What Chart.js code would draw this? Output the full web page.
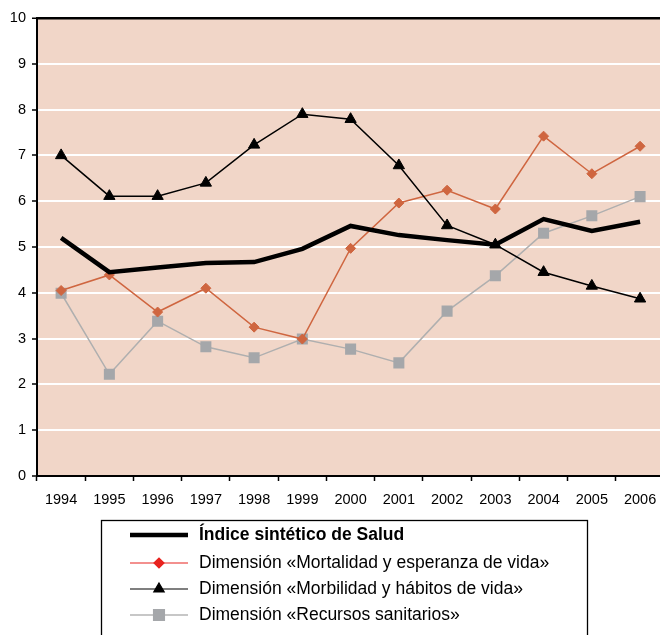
<!DOCTYPE html>
<html><head><meta charset="utf-8">
<script src="https://cdn.jsdelivr.net/npm/chart.js@4/dist/chart.umd.min.js"></script>
<style>
html,body{margin:0;padding:0;background:#fff;overflow:hidden}
#wrap{width:660px;height:635px;overflow:hidden;position:relative}
#c{position:absolute;left:0;top:0}
</style>
</head><body>
<div id="wrap"><canvas id="c" width="672" height="635"></canvas></div>
<script>
const years = ['1994','1995','1996','1997','1998','1999','2000','2001','2002','2003','2004','2005','2006'];
const indiceSalud = [5.2,4.45,4.55,4.65,4.67,4.96,5.46,5.26,5.15,5.05,5.61,5.35,5.55];
const mortalidad  = [4.05,4.39,3.58,4.1,3.25,2.99,4.97,5.96,6.24,5.83,7.42,6.6,7.2];
const morbilidad  = [7.0,6.11,6.11,6.4,7.23,7.9,7.79,6.78,5.47,5.05,4.45,4.15,3.87];
const recursos    = [3.99,2.22,3.38,2.82,2.58,2.99,2.77,2.47,3.6,4.37,5.3,5.68,6.1];
const seriesNames = [
  'Índice sintético de Salud',
  'Dimensión «Mortalidad y esperanza de vida»',
  'Dimensión «Morbilidad y hábitos de vida»',
  'Dimensión «Recursos sanitarios»'
];
const yMin = 0, yMax = 10, yStep = 1;

const FONT = "'Liberation Sans', Arial, sans-serif";

const bgPlugin = {
  id: 'plotBg',
  beforeDraw(chart) {
    const a = chart.chartArea, ctx = chart.ctx;
    ctx.save();
    ctx.fillStyle = '#F1D6C8';
    ctx.fillRect(a.left, a.top, a.right - a.left, a.bottom - a.top);
    ctx.restore();
  }
};

const legendStyles = [
  {color:'#000000', width:4.5, style:false},
  {color:'#E8231F', width:1.2, style:'rectRot', radius:5, fill:'#E8231F'},
  {color:'#000000', width:1.2, style:'triangle', radius:6, fill:'#000000'},
  {color:'#B4B4B4', width:1.5, style:'rect', radius:7.5, fill:'#A5A7AA'}
];

const legendPlugin = {
  id: 'boxLegend',
  afterDraw(chart) {
    const ctx = chart.ctx;
    ctx.save();
    ctx.strokeStyle = '#000';
    ctx.lineWidth = 1.3;
    ctx.strokeRect(101.5, 520.5, 486, 140);
    const rows = [535, 563, 589, 615];
    chart.data.datasets.forEach((ds, i) => {
      const st = legendStyles[i];
      const y = rows[i];
      ctx.strokeStyle = st.color;
      ctx.lineWidth = st.width;
      ctx.beginPath();
      ctx.moveTo(130, y); ctx.lineTo(188, y);
      ctx.stroke();
      if (st.style) {
        ctx.fillStyle = st.fill;
        ctx.strokeStyle = st.fill;
        Chart.helpers.drawPoint(ctx, {pointStyle: st.style, radius: st.radius, rotation: 0, borderWidth: 1}, 159, y);
      }
      ctx.fillStyle = '#000';
      ctx.font = (i === 0 ? 'bold ' : '') + '17.5px ' + FONT;
      ctx.textBaseline = 'middle';
      ctx.textAlign = 'left';
      ctx.fillText(ds.label, 199, y);
    });
    ctx.restore();
  }
};

new Chart(document.getElementById('c'), {
  type: 'line',
  data: {
    labels: years,
    datasets: [
      {label: seriesNames[0], data: indiceSalud, borderColor:'#000', borderWidth:4.5, pointRadius:0, pointHoverRadius:0, order:0, tension:0},
      {label: seriesNames[1], data: mortalidad, borderColor:'#CF6640', backgroundColor:'#CF6640', borderWidth:1.5,
        pointStyle:'rectRot', pointRadius:5, pointBorderWidth:1, pointBorderColor:'#CF6640', pointBackgroundColor:'#CF6640', order:2},
      {label: seriesNames[2], data: morbilidad, borderColor:'#000', backgroundColor:'#000', borderWidth:1.5,
        pointStyle:'triangle', pointRadius:6.5, pointBorderWidth:1, pointBorderColor:'#000', pointBackgroundColor:'#000', order:1},
      {label: seriesNames[3], data: recursos, borderColor:'#AFAFAF', backgroundColor:'#A5A7AA', borderWidth:1.5,
        pointStyle:'rect', pointRadius:7.8, pointBorderWidth:0, pointBorderColor:'#A5A7AA', pointBackgroundColor:'#A5A7AA', order:3}
    ]
  },
  options: {
    responsive: false,
    animation: false,
    events: [],
    layout: {padding: {top: 18, right: 4, bottom: 129, left: 0}},
    plugins: {legend: {display:false}, tooltip: {enabled:false}},
    scales: {
      x: {
        offset: true,
        grid: {offset: true, drawOnChartArea: false, drawTicks: true, tickLength: 5, tickColor: '#000', tickWidth: 1.5},
        border: {display: true, color: '#000', width: 2},
        ticks: {color:'#000', font: {family: FONT, size: 14.5}, padding: 10, maxRotation: 0, autoSkip: false},
        afterFit(axis) { axis.height = 30; }
      },
      y: {
        min: yMin, max: yMax,
        grid: {
          color: (c) => c.tick && c.tick.value === yMax ? '#000' : '#FFFFFF',
          lineWidth: (c) => c.tick && c.tick.value === yMax ? 2.5 : 2,
          tickColor: '#000', tickLength: 5, tickWidth: 1.5
        },
        border: {display: true, color: '#000', width: 2},
        ticks: {stepSize: yStep, color:'#000', font: {family: FONT, size: 14.5}, padding: 6},
        afterFit(axis) { axis.width = 37; }
      }
    }
  },
  plugins: [bgPlugin, legendPlugin]
});
</script>
</body></html>
